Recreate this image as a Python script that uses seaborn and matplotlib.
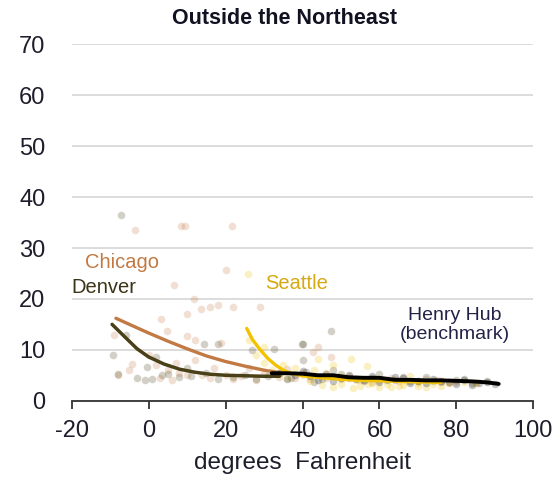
import matplotlib
matplotlib.use("Agg")
import matplotlib.pyplot as plt
import seaborn as sns

# ---- scatter data (daily observations) ----
chicago_x = [-3.6, 8.4, 9.5, 21.7, 20, 6.5, 11.9, 13.5, 16, 18, 22, 28.9, 10.1, 3.3, -9.1, 4.9, 10, 12,
             18.9, -4.3, 7, 12, 17, 42.7, 47.4, 44, -8, -5, 0, 2, 5, 8, 10, 14, 16, 20, 24, 26, 30, 34,
             38, 42, 46, 50, 55, 60, 65, 70, 75, 80, 85, 3, 6, 22, 28, 36, 40, 52, 58, 63, 72, 78]
chicago_y = [33.5, 34.4, 34.4, 34.4, 25.6, 22.8, 20, 18, 18.5, 18.8, 18.5, 18.4, 17.1, 16.1, 12.9, 13.7,
             12.8, 12, 11.3, 7.3, 7.5, 8, 6.5, 9.6, 8.5, 10.5, 5, 6, 9, 7, 6, 5.5, 5, 5, 4.5, 5, 4.8,
             6.5, 5.2, 4.6, 4.4, 4.3, 4.5, 4.2, 4.0, 4.1, 3.9, 3.8, 4.0, 3.7, 3.5, 4.5, 4, 4.2, 4.0,
             6.2, 5.5, 4.8, 3.6, 4.4, 4.3, 3.4]
denver_x = [-7.1, -9.3, 14.5, 18, 39.8, 27, -0.4, -3, -1, 1, 3.5, 47.4, 40.1, 32.6, 40, 5, 8, 11, 15,
            18, 22, 25, 28, 31, 34, 37, 41, 45, 48, 52, 56, 60, 64, 68, 72, 76, 80, 84, 88, -6, -8, 2, 10,
            43, 50, 58, 66, 74, 82]
denver_y = [36.4, 8.9, 11.1, 11.1, 11.1, 10, 6.6, 4.5, 4, 4.3, 5, 13.7, 11.2, 10.1, 8, 5.2, 4.6, 4.8,
            5.5, 4.2, 4.7, 5.1, 4.3, 4.8, 5.5, 4.4, 5.6, 4.2, 6.0, 4.5, 3.9, 5.2, 4.1, 3.8, 4.6, 3.6,
            4.0, 3.5, 3.8, 13, 5.2, 8.5, 6.5, 3.6, 5.3, 4.4, 4.7, 3.9, 4.2]
seattle_x = [25.8, 52.5, 56.8, 26, 28, 30, 32, 35, 38, 40, 43, 46, 50, 54, 58, 62, 66, 70, 74, 78, 82,
             45, 50, 55, 60, 65, 70, 36, 42, 48, 44, 68, 76, 85, 30, 34, 48, 53, 57, 63, 67, 72]
seattle_y = [24.8, 8.1, 6.9, 12, 9, 7.5, 6, 7, 6.5, 5, 6, 5.5, 4.8, 4, 3.5, 3.2, 3, 2.8, 3.2, 3.5, 3.6,
             3, 3.2, 2.9, 2.7, 2.9, 3.5, 4.5, 3.8, 7.0, 8.2, 4.8, 2.9, 3.4, 10.5, 5.2, 2.6, 2.5, 3.3,
             2.6, 3.8, 2.7]
henry_x = [34, 38, 42, 46, 50, 54, 58, 62, 66, 70, 74, 78, 82, 86, 90, 36, 44, 52, 60, 68, 76, 84, 88,
           40, 48, 56, 64, 72, 80]
henry_y = [5.5, 5, 4.8, 5.2, 4.5, 4.2, 4.8, 4.0, 4.4, 3.8, 4.2, 3.6, 4.0, 3.5, 3.2, 4.2, 4.0, 5.0, 3.6,
           3.4, 3.9, 3.1, 3.7, 5.8, 3.9, 4.1, 4.6, 3.5, 3.3]

# ---- fitted curves ----
chicago_fit_x = [-8.5, -5, 0, 5, 10, 15, 20, 25, 30, 34]
chicago_fit_y = [16.2, 15.0, 13.3, 11.7, 10.2, 8.8, 7.7, 6.8, 6.0, 5.5]
denver_fit_x = [-9.5, -6, -3, 0, 4, 8, 12, 16, 20, 25, 30, 34]
denver_fit_y = [15.0, 12.4, 10.2, 8.6, 7.2, 6.2, 5.6, 5.2, 5.0, 4.9, 4.8, 4.8]
seattle_fit_x = [25.5, 27, 29, 31, 33, 35, 37, 40, 45, 50, 55, 60, 65, 70, 76]
seattle_fit_y = [14.2, 12.0, 10.0, 8.3, 7.0, 6.0, 5.4, 4.9, 4.5, 4.2, 4.0, 3.9, 3.8, 3.7, 3.6]
henry_fit_x = [32, 36, 40, 44, 48, 52, 56, 60, 64, 68, 72, 76, 80, 84, 88, 91]
henry_fit_y = [5.4, 5.4, 5.3, 5.0, 5.0, 4.6, 4.5, 4.5, 4.1, 4.1, 4.0, 4.0, 3.9, 3.8, 3.6, 3.3]

x_ticks = [-20, 0, 20, 40, 60, 80, 100]
y_ticks = [0, 10, 20, 30, 40, 50, 60, 70]

c_chicago = "#c27a44"
c_denver = "#4a4018"
c_seattle = "#f2c200"
c_henry = "#000000"
c_text = "#1d1d2b"

sns.set_theme(style="white")
plt.rcParams["font.family"] = ["Liberation Sans", "DejaVu Sans"]

fig = plt.figure(figsize=(5.57, 4.78), dpi=100)
ax = fig.add_axes([0.1287, 0.1617, 0.9575 - 0.1287, 0.907 - 0.1617])

scat = [
    (chicago_x, chicago_y, c_chicago),
    (denver_x, denver_y, c_denver),
    (seattle_x, seattle_y, c_seattle),
    (henry_x, henry_y, c_henry),
]
for xs, ys, c in scat:
    sns.scatterplot(x=xs, y=ys, color=c, alpha=0.24, s=30, linewidth=0, ax=ax, zorder=2)

fits = [
    (chicago_fit_x, chicago_fit_y, c_chicago, 2.4),
    (denver_fit_x, denver_fit_y, c_denver, 2.5),
    (seattle_fit_x, seattle_fit_y, c_seattle, 2.4),
    (henry_fit_x, henry_fit_y, c_henry, 2.8),
]
for xs, ys, c, lw in fits:
    sns.lineplot(x=xs, y=ys, color=c, linewidth=lw, sort=False, estimator=None, ax=ax, zorder=3)

ax.set_xlim(-20, 100)
ax.set_ylim(0, 70)
ax.set_xticks(x_ticks)
ax.set_yticks(y_ticks)
ax.set_xticklabels([str(v) for v in x_ticks])
ax.set_yticklabels([str(v) for v in y_ticks])

ax.yaxis.grid(True, color="#d9d9d9", linewidth=1.3)
ax.xaxis.grid(False)
ax.set_axisbelow(True)
for s in ["left", "right", "top"]:
    ax.spines[s].set_visible(False)
ax.spines["bottom"].set_color("#333333")
ax.spines["bottom"].set_linewidth(1.3)
ax.tick_params(axis="x", which="major", direction="out", length=6, width=1.3,
               color="#333333", labelsize=17, labelcolor=c_text, pad=8, bottom=True)
ax.tick_params(axis="y", which="major", length=0, labelsize=17, labelcolor=c_text, pad=19)

ax.set_xlabel("degrees  Fahrenheit", fontsize=17.5, color=c_text, labelpad=7)
ax.set_ylabel("")

fig.text(285 / 557, 1 - 18 / 478, "Outside the Northeast", ha="center", va="center",
         fontsize=15.5, fontweight="bold", color="#111122")

ax.text(-16.5, 27.2, "Chicago", color=c_chicago, fontsize=14.5, va="center", ha="left")
ax.text(-20, 22.3, "Denver", color="#3a3418", fontsize=14.5, va="center", ha="left")
ax.text(30.3, 23.1, "Seattle", color="#d6a812", fontsize=14.5, va="center", ha="left")
ax.text(79.6, 14.9, "Henry Hub\n(benchmark)", color="#23234a", fontsize=14, va="center",
        ha="center", linespacing=1.15)

fig.savefig("out.png", dpi=100)
